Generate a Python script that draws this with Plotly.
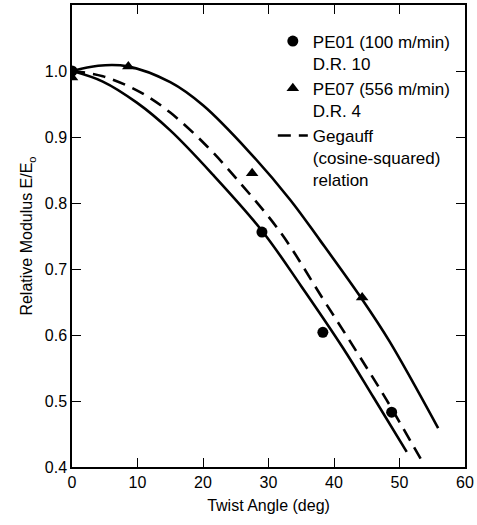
import plotly.graph_objects as go

# Measured points
pe01_x = [0, 29, 38.3, 48.8]
pe01_y = [1.0, 0.756, 0.604, 0.483]
pe07_x = [0, 8.6, 27.5, 44.3]
pe07_y = [0.99, 1.007, 0.845, 0.657]

# Fitted curves
upper_x = [0, 4, 8.5, 15, 20, 27, 33.3, 37.9, 44.3, 48.5, 55.9]
upper_y = [1.0, 1.008, 1.007, 0.983, 0.948, 0.878, 0.805, 0.743, 0.654, 0.59, 0.459]
gegauff_x = [0, 4.7, 10.4, 15, 20.6, 25, 31.8, 38.3, 43.5, 48, 53.6]
gegauff_y = [1.0, 0.992, 0.968, 0.937, 0.886, 0.838, 0.756, 0.655, 0.574, 0.502, 0.406]
lower_x = [0, 4.7, 9.9, 15, 21.5, 29, 35, 41.4, 46, 51.1]
lower_y = [1.0, 0.984, 0.952, 0.91, 0.843, 0.758, 0.674, 0.58, 0.506, 0.423]

x_ticks = [0, 10, 20, 30, 40, 50, 60]
y_ticks = [0.4, 0.5, 0.6, 0.7, 0.8, 0.9, 1.0]

FONT = "Liberation Sans"
fig = go.Figure()
fig.add_trace(go.Scatter(x=upper_x, y=upper_y, mode="lines", line=dict(color="black", width=2.6, shape="spline"), showlegend=False))
fig.add_trace(go.Scatter(x=lower_x, y=lower_y, mode="lines", line=dict(color="black", width=2.6, shape="spline"), showlegend=False))
fig.add_trace(go.Scatter(x=pe01_x, y=pe01_y, mode="markers", marker=dict(symbol="circle", size=11, color="black"),
                         name="PE01 (100 m/min)<br>D.R. 10"))
fig.add_trace(go.Scatter(x=pe07_x, y=pe07_y, mode="markers", marker=dict(symbol="triangle-up", size=11, color="black"),
                         name="PE07 (556 m/min)<br>D.R. 4"))
fig.add_trace(go.Scatter(x=gegauff_x, y=gegauff_y, mode="lines",
                         line=dict(color="black", width=2.6, shape="spline", dash="13px,8px"),
                         name="Gegauff<br>(cosine-squared)<br>relation"))

axis_common = dict(showline=True, linecolor="black", linewidth=1.5, mirror="ticks", ticks="inside",
                   ticklen=9, tickwidth=1.2, tickcolor="black", showgrid=False, zeroline=False,
                   automargin=False, tickfont=dict(family=FONT, size=16, color="black"))
fig.update_xaxes(range=[0, 60], tickvals=x_ticks, ticktext=[str(v) for v in x_ticks],
                 title=dict(text="Twist Angle (deg)", font=dict(family=FONT, size=16, color="black"), standoff=10),
                 **axis_common)
fig.update_yaxes(range=[0.4, 1.1], tickvals=y_ticks, ticktext=[f"{v:.1f}" for v in y_ticks],
                 title=dict(text="Relative Modulus E/E<sub>o</sub>", font=dict(family=FONT, size=16, color="black"), standoff=8),
                 **axis_common)
fig.update_layout(
    width=477, height=525,
    margin=dict(l=72, r=12, t=5, b=58),
    plot_bgcolor="white", paper_bgcolor="white",
    legend=dict(x=0.511, y=0.96, xanchor="left", yanchor="top", bgcolor="rgba(0,0,0,0)",
                font=dict(family=FONT, size=17, color="black"), valign="top", tracegroupgap=11,
                itemwidth=30),
)
fig.write_html("out.html", config={"displayModeBar": False},
               post_script="document.body.style.margin='0';")
